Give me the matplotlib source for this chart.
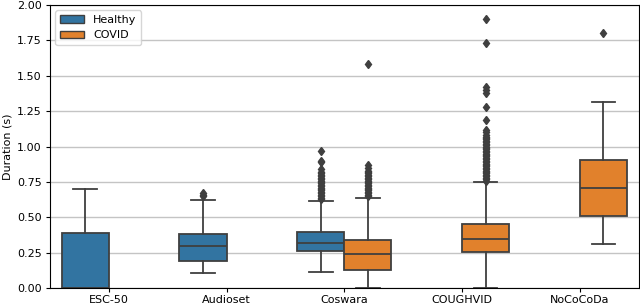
import numpy as np
import matplotlib
matplotlib.use('Agg')
import matplotlib.pyplot as plt
from matplotlib.patches import Patch

datasets = ['ESC-50', 'Audioset', 'Coswara', 'COUGHVID', 'NoCoCoDa']
groups = ['Healthy', 'COVID']
colors = {'Healthy': '#3274a1', 'COVID': '#e1812c'}

# box statistics: (dataset, group, whislo, q1, med, q3, whishi)
box_stats = [
    ('ESC-50', 'Healthy', 0.00, 0.00, 0.005, 0.387, 0.70),
    ('Audioset', 'Healthy', 0.105, 0.192, 0.295, 0.385, 0.625),
    ('Coswara', 'Healthy', 0.115, 0.262, 0.318, 0.400, 0.618),
    ('Coswara', 'COVID', 0.005, 0.128, 0.245, 0.338, 0.636),
    ('COUGHVID', 'COVID', 0.005, 0.256, 0.350, 0.457, 0.748),
    ('NoCoCoDa', 'COVID', 0.310, 0.513, 0.708, 0.907, 1.312),
]

fliers = {
    ('ESC-50', 'Healthy'): [],
    ('Audioset', 'Healthy'): [0.65, 0.66, 0.67],
    ('Coswara', 'Healthy'): [0.63, 0.64, 0.65, 0.66, 0.67, 0.68, 0.69, 0.70, 0.71,
                             0.72, 0.73, 0.74, 0.75, 0.76, 0.77, 0.78, 0.79, 0.80,
                             0.81, 0.82, 0.84, 0.89, 0.90, 0.97],
    ('Coswara', 'COVID'): [0.65, 0.66, 0.67, 0.68, 0.69, 0.70, 0.71, 0.72, 0.73,
                           0.74, 0.75, 0.76, 0.77, 0.78, 0.79, 0.80, 0.81, 0.82,
                           0.83, 0.85, 0.87, 1.58],
    ('COUGHVID', 'COVID'): [0.76, 0.77, 0.78, 0.79, 0.80, 0.81, 0.82, 0.83, 0.84,
                            0.85, 0.86, 0.87, 0.88, 0.89, 0.90, 0.91, 0.92, 0.93,
                            0.94, 0.95, 0.96, 0.97, 0.98, 0.99, 1.00, 1.01, 1.02,
                            1.03, 1.04, 1.05, 1.06, 1.07, 1.08, 1.10, 1.12, 1.19,
                            1.28, 1.38, 1.40, 1.42, 1.73, 1.90],
    ('NoCoCoDa', 'COVID'): [1.80],
}

plt.rcParams['font.size'] = 8

fig, ax = plt.subplots(figsize=(6.4, 3.06), dpi=100)
fig.subplots_adjust(left=0.078, right=0.998, top=0.984, bottom=0.058)

edge = '#3f3f3f'
offsets = {'Healthy': -0.2, 'COVID': 0.2}
for ds, grp, lo, q1, med, q3, hi in box_stats:
    st = dict(whislo=lo, q1=q1, med=med, q3=q3, whishi=hi, fliers=fliers[(ds, grp)])
    pos = datasets.index(ds) + offsets[grp]
    ax.bxp([st], positions=[pos], widths=0.4, patch_artist=True,
           manage_ticks=False,
           boxprops=dict(facecolor=colors[grp], edgecolor=edge, linewidth=1.3),
           medianprops=dict(color=edge, linewidth=1.3),
           whiskerprops=dict(color=edge, linewidth=1.3),
           capprops=dict(color=edge, linewidth=1.3),
           flierprops=dict(marker='d', markerfacecolor=edge, markeredgecolor=edge,
                           markersize=4.5))

ax.set_xticks(range(len(datasets)))
ax.set_xticklabels(datasets)
ax.set_xlim(-0.5, len(datasets) - 0.5)
ax.set_ylim(0, 2.0)
ax.set_yticks(np.arange(0, 2.01, 0.25))
ax.tick_params(axis='x', length=3, pad=1.5)
ax.tick_params(axis='y', length=3, pad=3)
ax.set_ylabel('Duration (s)', labelpad=3)
ax.yaxis.grid(True, color='#c4c4c4', linewidth=1.0)

handles = [Patch(facecolor=colors[g], edgecolor=edge, label=g) for g in groups]
ax.legend(handles=handles, loc='upper left', handlelength=2.2)

fig.savefig('out.png')
